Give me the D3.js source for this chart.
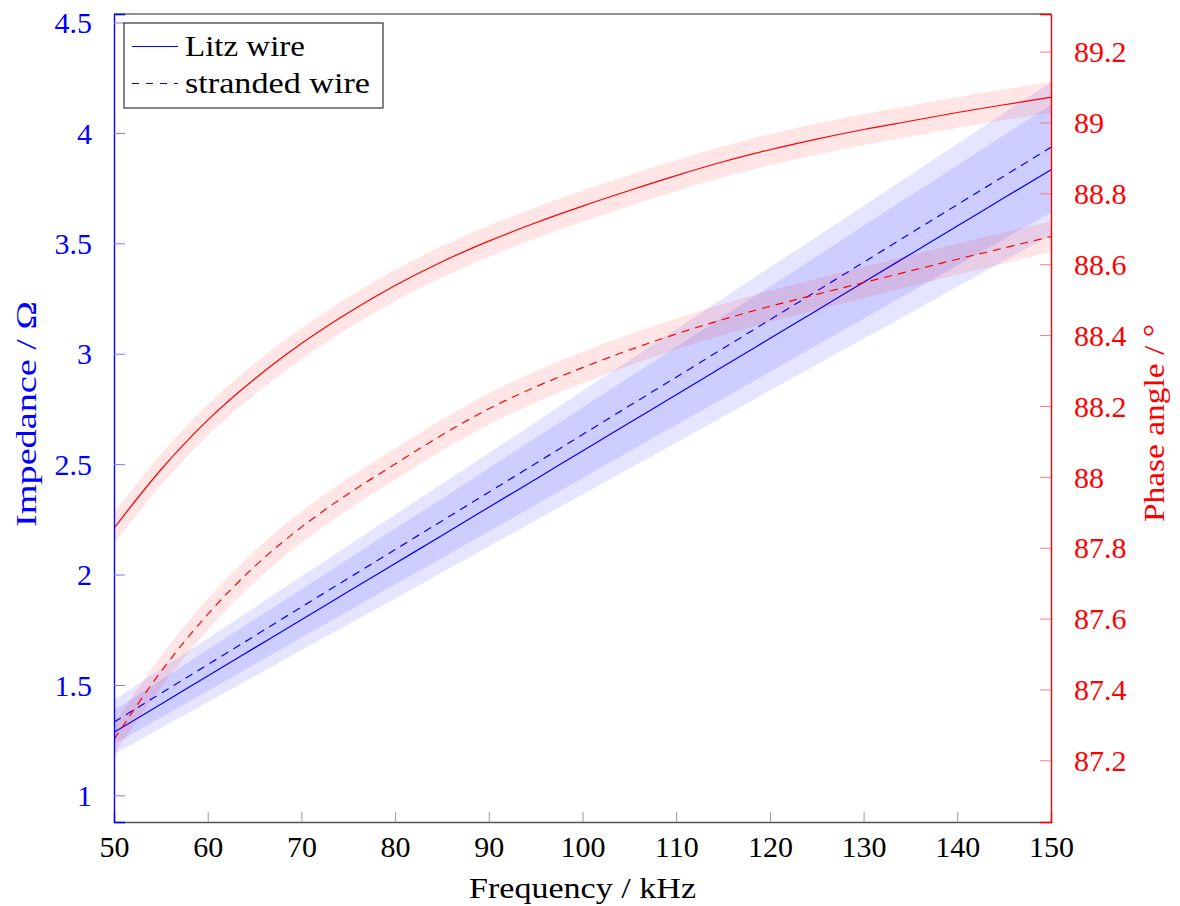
<!DOCTYPE html>
<html>
<head>
<meta charset="utf-8">
<script src="https://cdn.jsdelivr.net/npm/d3@7"></script>
<style>
  html, body { margin: 0; padding: 0; background: #fff; }
  svg text { font-family: "Liberation Serif", "DejaVu Serif", serif; }
</style>
</head>
<body>
<svg id="chart" width="1180" height="906"></svg>
<script>
// ---------------- data ----------------
const freq = [50, 55, 60, 65, 70, 75, 80, 85, 90, 95, 100, 105, 110, 115, 120, 125, 130, 135, 140, 145, 150];

const impLitz      = [1.286, 1.413, 1.541, 1.668, 1.795, 1.923, 2.050, 2.177, 2.305, 2.432, 2.560, 2.687, 2.814, 2.942, 3.069, 3.196, 3.324, 3.451, 3.578, 3.706, 3.833];
const impLitzLo    = [1.187, 1.304, 1.422, 1.540, 1.657, 1.775, 1.892, 2.009, 2.128, 2.245, 2.363, 2.480, 2.597, 2.715, 2.833, 2.950, 3.068, 3.185, 3.303, 3.421, 3.538];
const impLitzHi    = [1.385, 1.522, 1.660, 1.796, 1.933, 2.071, 2.208, 2.345, 2.482, 2.619, 2.757, 2.894, 3.031, 3.169, 3.305, 3.442, 3.580, 3.717, 3.854, 3.991, 4.128];

const impStrand    = [1.332, 1.462, 1.592, 1.722, 1.853, 1.983, 2.113, 2.243, 2.373, 2.503, 2.634, 2.764, 2.894, 3.024, 3.154, 3.284, 3.414, 3.545, 3.675, 3.805, 3.935];
const impStrandLo  = [1.232, 1.352, 1.473, 1.593, 1.714, 1.834, 1.955, 2.075, 2.195, 2.315, 2.436, 2.557, 2.677, 2.797, 2.917, 3.038, 3.158, 3.279, 3.399, 3.520, 3.640];
const impStrandHi  = [1.432, 1.572, 1.711, 1.851, 1.992, 2.132, 2.271, 2.411, 2.551, 2.691, 2.832, 2.971, 3.111, 3.251, 3.391, 3.530, 3.670, 3.811, 3.951, 4.090, 4.230];

const phLitz       = [87.855, 88.020, 88.160, 88.276, 88.376, 88.463, 88.540, 88.607, 88.665, 88.717, 88.764, 88.808, 88.850, 88.889, 88.923, 88.953, 88.980, 89.004, 89.028, 89.050, 89.071];
const phLitzLo     = [87.811, 87.976, 88.116, 88.232, 88.332, 88.419, 88.496, 88.563, 88.621, 88.673, 88.720, 88.764, 88.806, 88.845, 88.879, 88.909, 88.936, 88.960, 88.984, 89.006, 89.027];
const phLitzHi     = [87.899, 88.064, 88.204, 88.320, 88.420, 88.507, 88.584, 88.651, 88.709, 88.761, 88.808, 88.852, 88.894, 88.933, 88.967, 88.997, 89.024, 89.048, 89.072, 89.094, 89.115];

const phStrand     = [87.259, 87.450, 87.612, 87.747, 87.858, 87.952, 88.036, 88.118, 88.192, 88.254, 88.308, 88.358, 88.403, 88.444, 88.481, 88.515, 88.548, 88.581, 88.614, 88.646, 88.678];
const phStrandLo   = [87.215, 87.406, 87.568, 87.703, 87.814, 87.908, 87.992, 88.074, 88.148, 88.210, 88.264, 88.314, 88.359, 88.400, 88.437, 88.471, 88.504, 88.537, 88.570, 88.602, 88.634];
const phStrandHi   = [87.303, 87.494, 87.656, 87.791, 87.902, 87.996, 88.080, 88.162, 88.236, 88.298, 88.352, 88.402, 88.447, 88.488, 88.525, 88.559, 88.592, 88.625, 88.658, 88.690, 88.722];

const xTicks      = [50, 60, 70, 80, 90, 100, 110, 120, 130, 140, 150];
const yLeftTicks  = [1, 1.5, 2, 2.5, 3, 3.5, 4, 4.5];
const yRightTicks = [87.2, 87.4, 87.6, 87.8, 88, 88.2, 88.4, 88.6, 88.8, 89, 89.2];

const legendLabels = ["Litz wire", "stranded wire"];
const xTitle = "Frequency / kHz";
const yLeftTitle = "Impedance / \u03A9";
const yRightTitle = "Phase angle / \u00B0";

// ---------------- layout ----------------
const L = 114, R = 1051, T = 14, B = 822;
const svg = d3.select("#chart");

const x  = d3.scaleLinear().domain([50, 150]).range([L, R]);
const yL = d3.scaleLinear().domain([0.8795, 4.5385]).range([B, T]);
const yR = d3.scaleLinear().domain([87.026, 89.306]).range([B, T]);

svg.append("defs").append("clipPath").attr("id", "clip")
  .append("rect").attr("x", L).attr("y", T).attr("width", R - L).attr("height", B - T);

const plot = svg.append("g").attr("clip-path", "url(#clip)");

const idx = d3.range(freq.length);
const curve = d3.curveMonotoneX;

function band(lo, hi, ys) {
  return d3.area().curve(curve).x(i => x(freq[i])).y0(i => ys(lo[i])).y1(i => ys(hi[i]))(idx);
}
function line(v, ys) {
  return d3.line().curve(curve).x(i => x(freq[i])).y(i => ys(v[i]))(idx);
}

// blue bands + lines (left axis)
plot.append("path").attr("d", band(impLitzLo, impLitzHi, yL)).attr("fill", "#0000ff").attr("fill-opacity", 0.1);
plot.append("path").attr("d", band(impStrandLo, impStrandHi, yL)).attr("fill", "#0000ff").attr("fill-opacity", 0.1);
plot.append("path").attr("d", line(impLitz, yL)).attr("fill", "none").attr("stroke", "#0000ff").attr("stroke-width", 1.2);
plot.append("path").attr("d", line(impStrand, yL)).attr("fill", "none").attr("stroke", "#0000ff").attr("stroke-width", 1.2).attr("stroke-dasharray", "8,6");

// red bands + lines (right axis)
plot.append("path").attr("d", band(phLitzLo, phLitzHi, yR)).attr("fill", "#ff0000").attr("fill-opacity", 0.1);
plot.append("path").attr("d", band(phStrandLo, phStrandHi, yR)).attr("fill", "#ff0000").attr("fill-opacity", 0.1);
plot.append("path").attr("d", line(phLitz, yR)).attr("fill", "none").attr("stroke", "#ff0000").attr("stroke-width", 1.2);
plot.append("path").attr("d", line(phStrand, yR)).attr("fill", "none").attr("stroke", "#ff0000").attr("stroke-width", 1.2).attr("stroke-dasharray", "8,6");

// ---------------- axes ----------------
const fmt = d => String(+d.toFixed(2));

// bottom axis
const gx = svg.append("g").attr("transform", `translate(0,${B})`)
  .call(d3.axisBottom(x).tickValues(xTicks).tickSize(-10).tickPadding(14).tickFormat(fmt));
gx.select(".domain").attr("stroke", "#555").attr("stroke-width", 1.4);
gx.selectAll(".tick line").attr("stroke", "#999").attr("stroke-width", 1);
gx.selectAll(".tick text").attr("font-size", 30).attr("fill", "#000")
  .attr("font-family", "Liberation Serif, serif").attr("dy", "0.71em");

// top frame
svg.append("line").attr("x1", L).attr("x2", R).attr("y1", T).attr("y2", T)
  .attr("stroke", "#222").attr("stroke-width", 1.2);

// left axis
const gl = svg.append("g").attr("transform", `translate(${L},0)`)
  .call(d3.axisLeft(yL).tickValues(yLeftTicks).tickSize(-11).tickPadding(22).tickFormat(fmt));
gl.select(".domain").attr("stroke", "#0000ff").attr("stroke-width", 1.4);
gl.selectAll(".tick line").attr("stroke", "#7a7aff").attr("stroke-width", 1);
gl.selectAll(".tick text").attr("font-size", 30).attr("fill", "#0000ff")
  .attr("font-family", "Liberation Serif, serif").attr("dy", "0.34em");

// right axis
const gr = svg.append("g").attr("transform", `translate(${R},0)`)
  .call(d3.axisRight(yR).tickValues(yRightTicks).tickSize(-11).tickPadding(23).tickFormat(fmt));
gr.select(".domain").attr("stroke", "#ff0000").attr("stroke-width", 1.4);
gr.selectAll(".tick line").attr("stroke", "#ff7a7a").attr("stroke-width", 1);
gr.selectAll(".tick text").attr("font-size", 30).attr("fill", "#ff0000")
  .attr("font-family", "Liberation Serif, serif").attr("dy", "0.34em");

// ---------------- titles ----------------
svg.append("text").attr("x", (L + R) / 2).attr("y", 898).attr("text-anchor", "middle")
  .attr("font-size", 30).attr("fill", "#000")
  .attr("textLength", 227).attr("lengthAdjust", "spacingAndGlyphs").text(xTitle);

svg.append("text").attr("transform", `translate(36,414) rotate(-90)`).attr("text-anchor", "middle")
  .attr("font-size", 30).attr("fill", "#0000ff")
  .attr("textLength", 226).attr("lengthAdjust", "spacingAndGlyphs").text(yLeftTitle);

svg.append("text").attr("transform", `translate(1164,423) rotate(-90)`).attr("text-anchor", "middle")
  .attr("font-size", 30).attr("fill", "#ff0000")
  .attr("textLength", 198).attr("lengthAdjust", "spacingAndGlyphs").text(yRightTitle);

// ---------------- legend ----------------
const lg = svg.append("g");
lg.append("rect").attr("x", 124).attr("y", 23).attr("width", 259).attr("height", 85)
  .attr("fill", "#fff").attr("stroke", "#333").attr("stroke-width", 1.2);
const legendRows = [
  {label: legendLabels[0], dash: null, y: 46.5, w: 120},
  {label: legendLabels[1], dash: "7,7", y: 83.5, w: 185}
];
legendRows.forEach(r => {
  const ln = lg.append("line").attr("x1", 132).attr("x2", 178).attr("y1", r.y).attr("y2", r.y)
    .attr("stroke", "#0000ff").attr("stroke-width", 1.2);
  if (r.dash) ln.attr("stroke-dasharray", r.dash);
  lg.append("text").attr("x", 185).attr("y", r.y + 9).attr("font-size", 30).attr("fill", "#000")
    .attr("textLength", r.w).attr("lengthAdjust", "spacingAndGlyphs").text(r.label);
});
</script>
</body>
</html>
